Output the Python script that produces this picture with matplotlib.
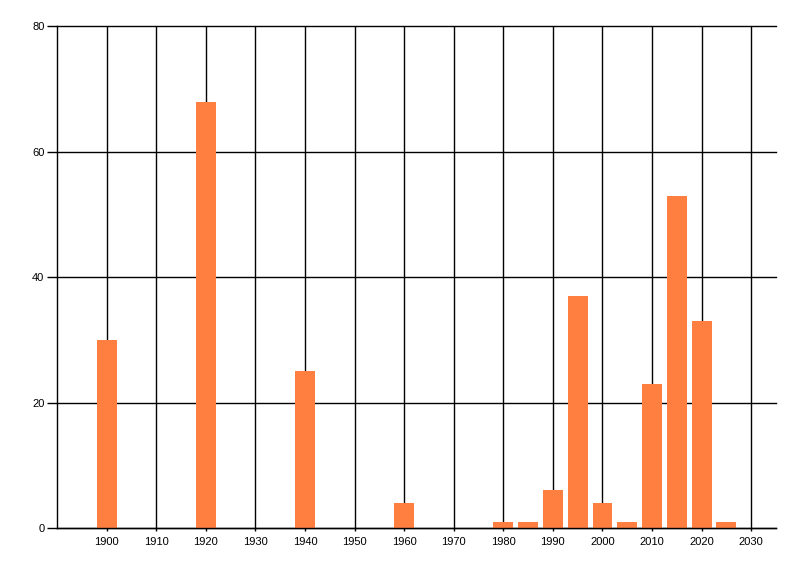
import matplotlib
matplotlib.use("Agg")
import matplotlib.pyplot as plt

# Данные
years = [1900, 1920, 1940, 1960, 1980, 1985, 1990, 1995, 2000, 2005, 2010, 2015, 2020, 2025]
counts = [30, 68, 25, 4, 1, 1, 6, 37, 4, 1, 23, 53, 33, 1]
x_ticks = list(range(1900, 2031, 10))
y_ticks = [0, 20, 40, 60, 80]

bar_color = "#FF7F41"

plt.rcParams["font.family"] = ["Liberation Sans", "DejaVu Sans"]

fig = plt.figure(figsize=(8, 5.76), dpi=100)
ax = fig.add_axes([57 / 800, 48 / 576, (776 - 57) / 800, (528 - 26.5) / 576])

ax.set_axisbelow(True)
ax.bar(years, counts, width=4, color=bar_color, zorder=2)

ax.set_xlim(1890, 2035)
ax.set_ylim(0, 80)
ax.set_xticks(x_ticks)
ax.set_yticks(y_ticks)

ax.grid(True, color="black", linewidth=1)
# чтобы линия на 80 не обрезалась
for line in ax.get_xgridlines() + ax.get_ygridlines():
    line.set_clip_on(False)

for side in ("top", "right"):
    ax.spines[side].set_visible(False)
for side in ("left", "bottom"):
    ax.spines[side].set_linewidth(1)
    ax.spines[side].set_zorder(3)

ax.tick_params(axis="x", length=2.2, width=1, pad=4, labelsize=8)
ax.tick_params(axis="y", length=7, width=1, pad=2, labelsize=8)

fig.savefig("out.png", dpi=100)
plt.close(fig)
